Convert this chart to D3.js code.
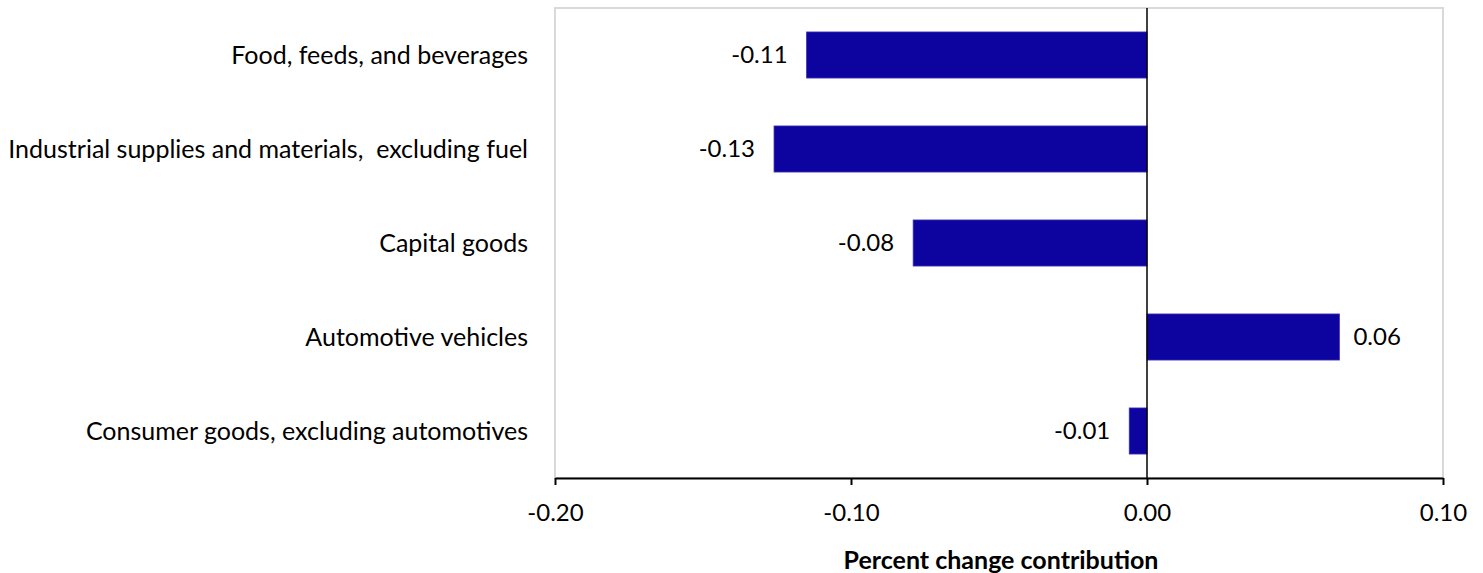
<!DOCTYPE html>
<html>
<head>
<meta charset="utf-8">
<script src="https://cdn.jsdelivr.net/npm/d3@7"></script>
<style>
  html, body { margin: 0; padding: 0; background: #fff; }
  svg { display: block; font-family: Lato, "Open Sans", sans-serif; }
  svg text { white-space: pre; }
</style>
</head>
<body>
<svg id="chart" width="1483" height="573"></svg>
<script>
const categories = [
  "Food, feeds, and beverages",
  "Industrial supplies and materials,  excluding fuel",
  "Capital goods",
  "Automotive vehicles",
  "Consumer goods, excluding automotives"
];
const values = [-0.115, -0.126, -0.079, 0.065, -0.006];
const valueLabels = ["-0.11", "-0.13", "-0.08", "0.06", "-0.01"];
const xTicks = [-0.2, -0.1, 0.0, 0.1];
const xTitle = "Percent change contribution";

const svg = d3.select("#chart");
const margin = { top: 8, right: 40, bottom: 95, left: 555 };
const width = 1483 - margin.left - margin.right;
const height = 573 - margin.top - margin.bottom;

const g = svg.append("g").attr("transform", `translate(${margin.left},${margin.top})`);

const x = d3.scaleLinear().domain([-0.2, 0.1]).range([0, width]);
const y = d3.scaleBand().domain(categories).range([0, height]).paddingInner(0.51).paddingOuter(0.255);

// plot frame (light grey)
g.append("rect")
  .attr("x", 0).attr("y", 0)
  .attr("width", width).attr("height", height)
  .attr("fill", "none")
  .attr("stroke", "#d9d9d9")
  .attr("stroke-width", 2);

// bars
g.selectAll("rect.bar")
  .data(values)
  .enter()
  .append("rect")
  .attr("class", "bar")
  .attr("x", d => x(Math.min(0, d)))
  .attr("y", (d, i) => y(categories[i]))
  .attr("width", d => Math.abs(x(d) - x(0)))
  .attr("height", y.bandwidth())
  .attr("fill", "#0d04a0")
  .attr("stroke", "#3a30b8")
  .attr("stroke-width", 0.8);

// zero line
g.append("line")
  .attr("x1", x(0)).attr("x2", x(0))
  .attr("y1", 0).attr("y2", height)
  .attr("stroke", "#000")
  .attr("stroke-width", 1.5);

// value labels
g.selectAll("text.val")
  .data(values)
  .enter()
  .append("text")
  .attr("class", "val")
  .attr("x", d => d < 0 ? x(d) - 19 : x(d) + 14)
  .attr("y", (d, i) => y(categories[i]) + y.bandwidth() / 2)
  .attr("dy", "0.35em")
  .attr("text-anchor", d => d < 0 ? "end" : "start")
  .style("font-size", "24px")
  .style("fill", "#000")
  .text((d, i) => valueLabels[i]);

// x axis
const xAxis = g.append("g")
  .attr("transform", `translate(0,${height})`)
  .call(d3.axisBottom(x).tickValues(xTicks).tickSize(7).tickSizeOuter(0).tickFormat(d3.format(".2f")));
xAxis.select(".domain").attr("stroke", "#000").attr("stroke-width", 2);
xAxis.selectAll(".tick line").attr("stroke", "#000").attr("stroke-width", 2);
xAxis.selectAll(".tick text")
  .attr("y", 26)
  .attr("dy", "0.71em")
  .style("font-family", "Lato, sans-serif")
  .style("font-size", "24px")
  .style("fill", "#000")
  .text(d => d3.format(".2f")(d).replace("−", "-"));

// category labels
g.selectAll("text.cat")
  .data(categories)
  .enter()
  .append("text")
  .attr("class", "cat")
  .attr("x", -27)
  .attr("y", d => y(d) + y.bandwidth() / 2)
  .attr("dy", "0.35em")
  .attr("text-anchor", "end")
  .style("font-size", "25px")
  .style("fill", "#000")
  .text(d => d);

// axis title
svg.append("text")
  .attr("x", 1001)
  .attr("y", 569)
  .attr("text-anchor", "middle")
  .style("font-size", "25px")
  .style("font-weight", "bold")
  .style("fill", "#000")
  .text(xTitle);
</script>
</body>
</html>
